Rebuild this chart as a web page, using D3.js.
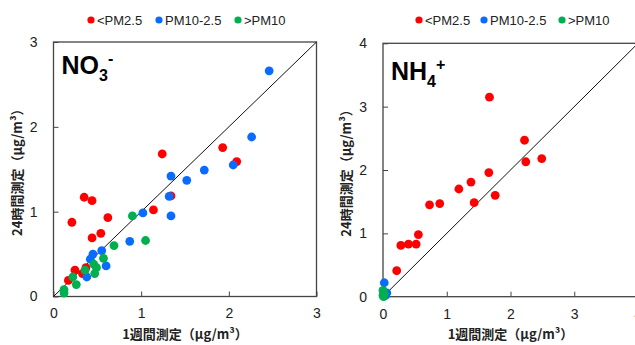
<!DOCTYPE html>
<html>
<head>
<meta charset="utf-8">
<script src="https://cdn.jsdelivr.net/npm/d3@7"></script>
<style>
  body { margin: 0; background: #fff; }
  svg { display: block; font-family: "Liberation Sans", Arial, sans-serif; }
  .jp { font-family: "Noto Sans CJK JP", "Liberation Sans", sans-serif; }
</style>
</head>
<body>
<svg id="chart" width="635" height="345"></svg>
<script>
// series names and colours
const seriesNames = ["<PM2.5", "PM10-2.5", ">PM10"];
const seriesColors = ["#ff0000", "#0a6cff", "#00b050"];

// NO3- : [1週間, 24時間]
const no3Fine = [[0.35,1.17],[0.44,1.13],[0.21,0.875],[0.62,0.93],[0.54,0.745],[0.44,0.69],
  [1.14,1.02],[1.24,1.68],[1.34,1.185],[1.93,1.755],[2.09,1.59],[0.245,0.31],[0.37,0.34],
  [0.17,0.19],[0.33,0.27]];
const no3Coarse = [[2.46,2.66],[2.26,1.88],[2.05,1.55],[1.72,1.49],[1.52,1.37],[1.34,1.42],
  [1.32,1.18],[1.34,0.95],[1.02,0.985],[0.87,0.65],[0.55,0.54],[0.45,0.50],[0.42,0.44],
  [0.60,0.36],[0.38,0.23]];
const no3Large = [[0.90,0.95],[1.05,0.66],[0.69,0.60],[0.57,0.45],[0.46,0.38],[0.49,0.34],
  [0.36,0.31],[0.47,0.27],[0.22,0.23],[0.26,0.14],[0.12,0.08],[0.12,0.04]];

// NH4+
const nh4Fine = [[1.67,3.15],[2.22,2.47],[2.24,2.13],[2.49,2.18],[1.66,1.96],[1.38,1.81],
  [1.19,1.70],[1.76,1.60],[1.43,1.485],[0.73,1.45],[0.89,1.47],[0.555,0.98],[0.52,0.83],
  [0.40,0.83],[0.28,0.81],[0.215,0.41]];
const nh4Coarse = [[0.02,0.22],[0.06,0.06],[0.04,0.02]];
const nh4Large = [[0.0,0.02],[0.01,0.06],[0.0,0.1],[0.02,0.04],[0.01,0.0]];

const no3Ticks = [0, 1, 2, 3];
const nh4Ticks = [0, 1, 2, 3, 4];

const svg = d3.select("#chart");

function panel(opt) {
  const x = d3.scaleLinear().domain(opt.domain).range([opt.left, opt.right]);
  const y = d3.scaleLinear().domain(opt.domain).range([opt.bottom, opt.top]);
  const g = svg.append("g");

  // legend
  const lg = g.append("g");
  opt.legendX.forEach((lx, i) => {
    lg.append("circle").attr("cx", lx).attr("cy", 20).attr("r", 3.6)
      .attr("fill", seriesColors[i]);
    lg.append("text").attr("x", lx + 6).attr("y", 24.5)
      .attr("font-size", 13).attr("fill", "#222").text(seriesNames[i]);
  });

  // axes (ticks inside)
  const ax = g.append("g").attr("transform", `translate(0,${opt.bottom})`)
    .call(d3.axisBottom(x).tickValues(opt.ticks).tickSizeInner(-5).tickSizeOuter(0)
      .tickPadding(12).tickFormat(d3.format("d")));
  const ay = g.append("g").attr("transform", `translate(${opt.left},0)`)
    .call(d3.axisLeft(y).tickValues(opt.ticks).tickSizeInner(-5).tickSizeOuter(0)
      .tickPadding(16).tickFormat(d3.format("d")));
  [ax, ay].forEach(a => {
    a.select(".domain").remove();
    a.selectAll("line").attr("stroke", "#444");
    a.selectAll("text").attr("font-size", 14).attr("fill", "#222");
  });

  // frame
  g.append("rect").attr("x", opt.left).attr("y", opt.top)
    .attr("width", opt.right - opt.left).attr("height", opt.bottom - opt.top)
    .attr("fill", "none").attr("stroke", "#444").attr("stroke-width", 1.3);

  // 1:1 line
  g.append("line")
    .attr("x1", x(opt.domain[0])).attr("y1", y(opt.domain[0]))
    .attr("x2", x(opt.domain[1])).attr("y2", y(opt.domain[1]))
    .attr("stroke", "#111").attr("stroke-width", 1);

  // points
  opt.series.forEach((pts, i) => {
    g.append("g").selectAll("circle").data(pts).join("circle")
      .attr("cx", d => x(d[0])).attr("cy", d => y(d[1])).attr("r", 4.4)
      .attr("fill", seriesColors[i]);
  });

  // species label
  const lab = g.append("text").attr("x", opt.left + 8).attr("y", opt.labelY)
    .attr("font-size", 25).attr("font-weight", "bold").attr("fill", "#000");
  lab.append("tspan").text(opt.label[0]);
  lab.append("tspan").attr("font-size", 16).attr("dy", 7).text(opt.label[1]);
  lab.append("tspan").attr("font-size", 16).attr("dy", -17).text(opt.label[2]);

  // axis titles
  g.append("text").attr("class", "jp").attr("x", (opt.left + opt.right) / 2).attr("y", 339)
    .attr("text-anchor", "middle").attr("font-size", 13).attr("font-weight", "bold")
    .attr("fill", "#222").text("1週間測定（μg/m³）");
  g.append("text").attr("class", "jp")
    .attr("transform", `translate(${opt.yTitleX},${(opt.top + opt.bottom) / 2}) rotate(-90)`)
    .attr("text-anchor", "middle").attr("font-size", 13).attr("font-weight", "bold")
    .attr("fill", "#222").text("24時間測定（μg/m³）");
}

panel({
  domain: [0, 3], ticks: no3Ticks,
  left: 53.5, right: 316.5, top: 42, bottom: 296.5,
  legendX: [91, 159, 238],
  series: [no3Fine, no3Coarse, no3Large],
  label: ["NO", "3", "-"], labelY: 74,
  yTitleX: 22
});

panel({
  domain: [0, 4], ticks: nh4Ticks,
  left: 383, right: 638, top: 43.3, bottom: 296.7,
  legendX: [419, 484, 562],
  series: [nh4Fine, nh4Coarse, nh4Large],
  label: ["NH", "4", "+"], labelY: 80,
  yTitleX: 351
});
</script>
</body>
</html>
